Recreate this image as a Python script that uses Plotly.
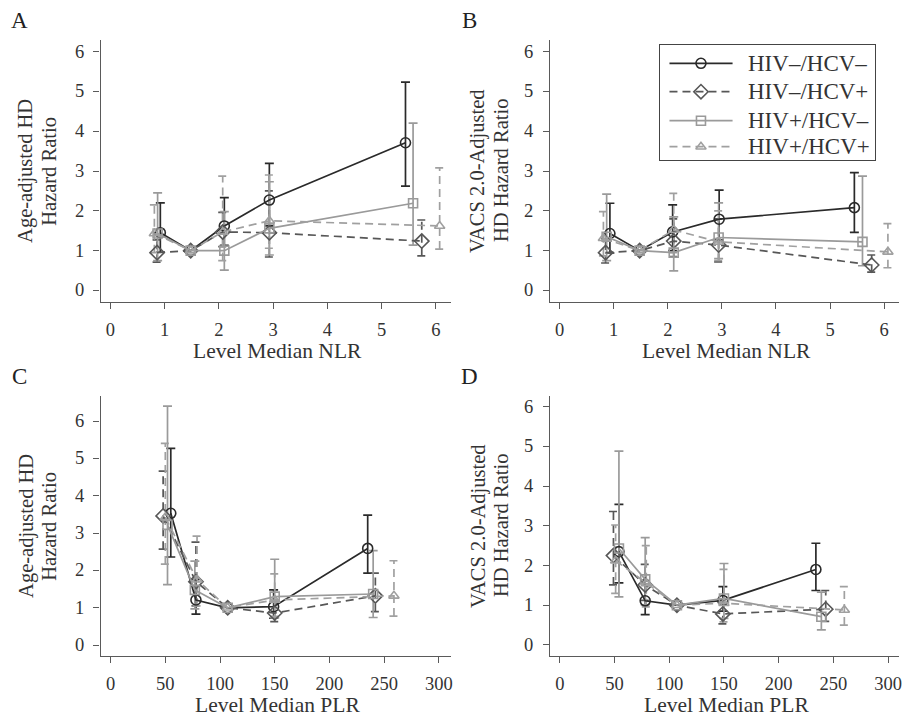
import plotly.graph_objects as go

W, H = 907, 722
FONT = "Liberation Serif"

# ---------------------------------------------------------------------------
# Hazard ratios (point estimate, lower / upper 95% CI) by level median
# ---------------------------------------------------------------------------
groups = ["HIV–/HCV–", "HIV–/HCV+", "HIV+/HCV–", "HIV+/HCV+"]

# Panel A: age-adjusted, NLR
nlr_age_x = [
    [0.92, 1.48, 2.10, 2.93, 5.44],
    [0.86, 1.48, 2.07, 2.93, 5.74],
    [0.87, 1.48, 2.10, 2.93, 5.58],
    [0.81, 1.48, 2.07, 2.93, 6.07],
]
nlr_age_hr = [
    [1.45, 1.00, 1.62, 2.27, 3.71],
    [0.95, 1.00, 1.47, 1.45, 1.24],
    [1.43, 1.00, 1.00, 1.56, 2.19],
    [1.43, 1.00, 1.47, 1.75, 1.62],
]
nlr_age_lo = [
    [0.96, 1.00, 1.13, 1.62, 2.62],
    [0.71, 1.00, 1.10, 0.84, 0.87],
    [0.75, 1.00, 0.51, 0.89, 1.14],
    [0.95, 1.00, 0.75, 1.06, 1.04],
]
nlr_age_hi = [
    [2.20, 1.00, 2.33, 3.19, 5.23],
    [1.27, 1.00, 1.96, 2.50, 1.77],
    [2.45, 1.00, 1.98, 2.73, 4.20],
    [2.15, 1.00, 2.87, 2.90, 3.08],
]

# Panel B: VACS 2.0-adjusted, NLR
nlr_vacs_x = [
    [0.93, 1.48, 2.09, 2.95, 5.45],
    [0.85, 1.48, 2.11, 2.94, 5.77],
    [0.87, 1.48, 2.11, 2.94, 5.60],
    [0.81, 1.48, 2.11, 2.94, 6.07],
]
nlr_vacs_hr = [
    [1.43, 1.00, 1.47, 1.79, 2.08],
    [0.95, 1.00, 1.24, 1.14, 0.64],
    [1.35, 1.00, 0.95, 1.33, 1.22],
    [1.31, 1.00, 1.52, 1.22, 0.97],
]
nlr_vacs_lo = [
    [0.94, 1.00, 1.00, 1.27, 1.46],
    [0.69, 1.00, 0.85, 0.72, 0.46],
    [0.75, 1.00, 0.49, 0.80, 0.62],
    [0.87, 1.00, 0.95, 0.75, 0.57],
]
nlr_vacs_hi = [
    [2.19, 1.00, 2.15, 2.52, 2.96],
    [1.30, 1.00, 1.80, 1.80, 0.89],
    [2.42, 1.00, 1.85, 2.20, 2.87],
    [1.98, 1.00, 2.44, 2.00, 1.68],
]

# Panel C: age-adjusted, PLR
plr_age_x = [
    [55, 78, 107, 149, 235],
    [48, 78, 107, 150, 242],
    [52, 77, 107, 150, 240],
    [50, 79, 107, 150, 259],
]
plr_age_hr = [
    [3.53, 1.21, 1.00, 1.03, 2.59],
    [3.46, 1.70, 1.00, 0.86, 1.32],
    [3.22, 1.48, 1.00, 1.30, 1.37],
    [3.42, 1.75, 1.00, 1.21, 1.32],
]
plr_age_lo = [
    [2.36, 0.83, 1.00, 0.72, 1.93],
    [2.57, 1.05, 1.00, 0.63, 0.90],
    [1.62, 0.97, 1.00, 0.73, 0.74],
    [2.17, 1.05, 1.00, 0.77, 0.78],
]
plr_age_hi = [
    [5.27, 1.76, 1.00, 1.48, 3.48],
    [4.66, 2.76, 1.00, 1.17, 1.93],
    [6.40, 2.25, 1.00, 2.30, 2.53],
    [5.40, 2.92, 1.00, 1.91, 2.26],
]

# Panel D: VACS 2.0-adjusted, PLR
plr_vacs_x = [
    [54, 78, 107, 149, 234],
    [49, 78, 107, 149, 243],
    [54, 78, 107, 150, 239],
    [51, 79, 107, 150, 260],
]
plr_vacs_hr = [
    [2.35, 1.11, 1.00, 1.12, 1.90],
    [2.25, 1.51, 1.00, 0.78, 0.90],
    [2.43, 1.65, 1.00, 1.17, 0.71],
    [2.12, 1.55, 1.00, 1.05, 0.88],
]
plr_vacs_lo = [
    [1.56, 0.76, 1.00, 0.85, 1.37],
    [1.51, 1.12, 1.00, 0.53, 0.59],
    [1.21, 1.01, 1.00, 0.67, 0.38],
    [1.30, 0.96, 1.00, 0.58, 0.50],
]
plr_vacs_hi = [
    [3.54, 1.62, 1.00, 1.47, 2.56],
    [3.36, 2.03, 1.00, 1.15, 1.37],
    [4.88, 2.70, 1.00, 2.05, 1.33],
    [3.02, 2.50, 1.00, 1.90, 1.47],
]

nlr_ticks = [0, 1, 2, 3, 4, 5, 6]
plr_ticks = [0, 50, 100, 150, 200, 250, 300]
hr_ticks = [0, 1, 2, 3, 4, 5, 6]

# ---------------------------------------------------------------------------
# Styling
# ---------------------------------------------------------------------------
colors = ["#2a2a2a", "#575757", "#9a9a9a", "#a0a0a0"]
dashes = ["solid", "8px,5px", "solid", "8px,5px"]
symbols = ["circle-open", "diamond-open", "square-open", "triangle-up-open"]
msizes = [10, 11, 9, 9]
LW = 1.7
CAP_PX = 4.5
AXIS_COLOR = "#5a5a5a"
TEXT_COLOR = "#333333"
TICK_SIZE = 18.5
YLABEL_GAP = 15   # px between y-axis line and right edge of its tick labels


def px_x(p):
    return p / W


def px_y(p):
    return 1 - p / H


panels = [
    dict(letter="A", n="", box=(101, 452, 40, 302), xr=(-0.18, 6.27), yr=(-0.29, 6.29),
         xt=nlr_ticks, xtitle="Level Median NLR",
         ytitle=("Age-adjusted HD", "Hazard Ratio"), yoff=(-75, -52),
         data=(nlr_age_x, nlr_age_hr, nlr_age_lo, nlr_age_hi)),
    dict(letter="B", n="2", box=(551.7, 901.7, 40, 302), xr=(-0.18, 6.27), yr=(-0.29, 6.29),
         xt=nlr_ticks, xtitle="Level Median NLR",
         ytitle=("VACS 2.0-Adjusted", "HD Hazard Ratio"), yoff=(-72, -49),
         data=(nlr_vacs_x, nlr_vacs_hr, nlr_vacs_lo, nlr_vacs_hi)),
    dict(letter="C", n="3", box=(101, 452, 396, 656), xr=(-9.1, 310.7), yr=(-0.29, 6.67),
         xt=plr_ticks, xtitle="Level Median PLR",
         ytitle=("Age-adjusted HD", "Hazard Ratio"), yoff=(-75, -52),
         data=(plr_age_x, plr_age_hr, plr_age_lo, plr_age_hi)),
    dict(letter="D", n="4", box=(551.7, 901.7, 396, 656), xr=(-9.1, 309.7), yr=(-0.28, 6.27),
         xt=plr_ticks, xtitle="Level Median PLR",
         ytitle=("VACS 2.0-Adjusted", "HD Hazard Ratio"), yoff=(-72, -49),
         data=(plr_vacs_x, plr_vacs_hr, plr_vacs_lo, plr_vacs_hi)),
]

fig = go.Figure()
layout = dict(
    width=W, height=H,
    margin=dict(l=0, r=0, t=0, b=0),
    paper_bgcolor="white", plot_bgcolor="white",
    showlegend=False,
    font=dict(family=FONT, color=TEXT_COLOR),
)
annotations = []

for p in panels:
    x0, x1, y0, y1 = p["box"]
    xa, ya = "x" + p["n"], "y" + p["n"]
    xkey, ykey = "xaxis" + p["n"], "yaxis" + p["n"]
    layout[xkey] = dict(
        domain=[px_x(x0), px_x(x1)], range=list(p["xr"]), anchor=ya,
        showline=True, linecolor=AXIS_COLOR, linewidth=1.4,
        ticks="outside", ticklen=6, tickwidth=1.4, tickcolor=AXIS_COLOR,
        tickvals=p["xt"], ticktext=[str(t) for t in p["xt"]],
        ticklabelstandoff=5,
        tickfont=dict(family=FONT, size=TICK_SIZE, color=TEXT_COLOR),
        showgrid=False, zeroline=False, fixedrange=True,
    )
    layout[ykey] = dict(
        domain=[px_y(y1), px_y(y0)], range=list(p["yr"]), anchor=xa,
        showline=True, linecolor=AXIS_COLOR, linewidth=1.4,
        ticks="outside", ticklen=6, tickwidth=1.4, tickcolor=AXIS_COLOR,
        tickvals=hr_ticks, showticklabels=False,
        showgrid=False, zeroline=False, fixedrange=True,
    )
    # y tick labels placed at a fixed gap left of the axis line
    for t in hr_ticks:
        annotations.append(dict(
            text=str(t), xref="paper", yref=ya, x=px_x(x0 - YLABEL_GAP), y=t,
            xanchor="right", yanchor="middle", showarrow=False,
            font=dict(family=FONT, size=TICK_SIZE, color=TEXT_COLOR),
        ))

    # cap half-width expressed in data units of this panel
    cap = CAP_PX * (p["xr"][1] - p["xr"][0]) / (x1 - x0)
    xs_all, hr_all, lo_all, hi_all = p["data"]

    for g in range(len(groups)):
        xs, lo, hi = xs_all[g], lo_all[g], hi_all[g]
        bx, by = [], []
        for xv, l, h in zip(xs, lo, hi):
            if h == l:
                continue
            bx += [xv, xv, None, xv - cap, xv + cap, None, xv - cap, xv + cap, None]
            by += [l, h, None, l, l, None, h, h, None]
        fig.add_trace(go.Scatter(
            x=bx, y=by, xaxis=xa, yaxis=ya, mode="lines",
            line=dict(color=colors[g], width=LW, dash=dashes[g]),
            hoverinfo="skip",
        ))
    for g in range(len(groups)):
        fig.add_trace(go.Scatter(
            x=xs_all[g], y=hr_all[g], xaxis=xa, yaxis=ya, mode="lines+markers",
            name=groups[g],
            line=dict(color=colors[g], width=LW, dash=dashes[g]),
            marker=dict(symbol=symbols[g], size=msizes[g],
                        line=dict(color=colors[g], width=1.6), color=colors[g]),
        ))

    # panel letter
    annotations.append(dict(
        text=p["letter"], xref="paper", yref="paper",
        x=px_x(x0 - 81), y=px_y(y0 - 19.5), xanchor="center", yanchor="middle",
        showarrow=False, font=dict(family=FONT, size=23, color="#222222"),
    ))
    # y-axis title, two lines
    for line_text, off in zip(p["ytitle"], p["yoff"]):
        annotations.append(dict(
            text=line_text, xref="paper", yref="paper",
            x=px_x(x0 + off), y=px_y((y0 + y1) / 2), xanchor="center", yanchor="middle",
            textangle=-90, showarrow=False,
            font=dict(family=FONT, size=20.5, color=TEXT_COLOR),
        ))
    # x-axis title
    annotations.append(dict(
        text=p["xtitle"], xref="paper", yref="paper",
        x=px_x((x0 + x1) / 2 + 2), y=px_y(y1 + 49), xanchor="center", yanchor="middle",
        showarrow=False, font=dict(family=FONT, size=21.5, color=TEXT_COLOR),
    ))

# ---------------------------------------------------------------------------
# Legend box drawn in its own small axes inside panel B
# ---------------------------------------------------------------------------
LEG = (661.7, 878.3, 45, 160)
leg_w, leg_h = LEG[1] - LEG[0], LEG[3] - LEG[2]
layout["xaxis5"] = dict(
    domain=[px_x(LEG[0]), px_x(LEG[1])], range=[0, leg_w], anchor="y5",
    showline=True, mirror=True, linecolor="#444444", linewidth=1.4,
    showticklabels=False, ticks="", showgrid=False, zeroline=False, fixedrange=True,
)
layout["yaxis5"] = dict(
    domain=[px_y(LEG[3]), px_y(LEG[2])], range=[leg_h, 0], anchor="x5",
    showline=True, mirror=True, linecolor="#444444", linewidth=1.4,
    showticklabels=False, ticks="", showgrid=False, zeroline=False, fixedrange=True,
)
leg_rows = [18.3, 46.7, 75.7, 101.7]
leg_line = [10, 73.3]
leg_mark = 41.6
leg_text = 86.6
for g in range(len(groups)):
    yy = leg_rows[g]
    fig.add_trace(go.Scatter(
        x=leg_line, y=[yy, yy], xaxis="x5", yaxis="y5", mode="lines",
        line=dict(color=colors[g], width=LW, dash=dashes[g]), hoverinfo="skip",
    ))
    fig.add_trace(go.Scatter(
        x=[leg_mark], y=[yy], xaxis="x5", yaxis="y5", mode="markers",
        marker=dict(symbol=symbols[g], size=msizes[g],
                    line=dict(color=colors[g], width=1.6), color=colors[g]),
        hoverinfo="skip",
    ))
    annotations.append(dict(
        text=groups[g], xref="x5", yref="y5", x=leg_text, y=yy,
        xanchor="left", yanchor="middle", showarrow=False,
        font=dict(family=FONT, size=23, color=TEXT_COLOR),
    ))

layout["annotations"] = annotations
fig.update_layout(**layout)
fig.write_html("out.html")
